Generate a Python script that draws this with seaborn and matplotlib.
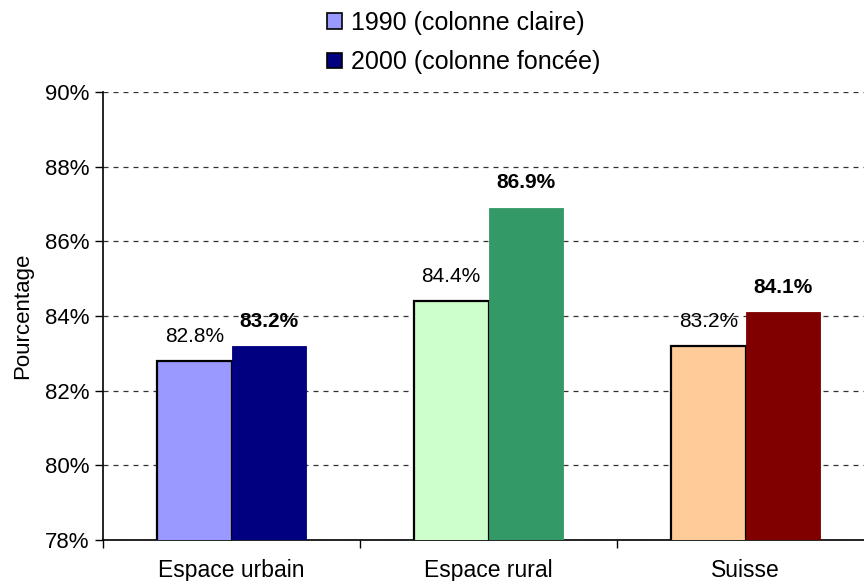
import matplotlib
matplotlib.use("Agg")
import matplotlib.pyplot as plt
import seaborn as sns
import pandas as pd
from matplotlib.patches import Patch
from matplotlib.ticker import FuncFormatter, FixedLocator

categories = ["Espace urbain", "Espace rural", "Suisse"]
years = ["1990", "2000"]
values_1990 = [82.8, 84.4, 83.2]
values_2000 = [83.2, 86.9, 84.1]
labels_1990 = ["82.8%", "84.4%", "83.2%"]
labels_2000 = ["83.2%", "86.9%", "84.1%"]
legend_labels = ["1990 (colonne claire)", "2000 (colonne foncée)"]
colors_1990 = ["#9999FF", "#CCFFCC", "#FFCC99"]
colors_2000 = ["#000080", "#339966", "#800000"]

df = pd.DataFrame({
    "cat": categories * 2,
    "year": [years[0]] * 3 + [years[1]] * 3,
    "val": values_1990 + values_2000,
})

sns.set_style("white")
plt.rcParams["font.family"] = ["Liberation Sans", "DejaVu Sans"]
plt.rcParams["text.color"] = "black"
plt.rcParams["axes.labelcolor"] = "black"
plt.rcParams["xtick.color"] = "black"
plt.rcParams["ytick.color"] = "black"

fig = plt.figure(figsize=(8.64, 5.81), dpi=100)
ax = fig.add_axes([103 / 864, 1 - 540 / 581, 771 / 864, 448 / 581])

sns.barplot(data=df, x="cat", y="val", hue="year", order=categories,
            hue_order=years, width=0.58, ax=ax, legend=False, errorbar=None,
            zorder=3)

c1990, c2000 = ax.containers[0], ax.containers[1]
for patch, col in zip(c1990, colors_1990):
    patch.set_facecolor(col)
    patch.set_edgecolor("black")
    patch.set_linewidth(1.6)
for patch, col in zip(c2000, colors_2000):
    patch.set_facecolor(col)
    patch.set_edgecolor(col)
    patch.set_linewidth(0.6)

ax.bar_label(c1990, labels=labels_1990, padding=11, fontsize=15,
             color="black")
ax.bar_label(c2000, labels=labels_2000, padding=11, fontsize=15,
             fontweight="bold", color="black")

ax.set_ylim(78, 90)
ax.set_xlim(-0.5, 2.5)
ax.set_yticks([78, 80, 82, 84, 86, 88, 90])
ax.yaxis.set_major_formatter(FuncFormatter(lambda v, p: f"{v:.0f}%"))
ax.yaxis.grid(True, linestyle=(0, (4, 4)), color="#333333", linewidth=0.9,
              zorder=0)
ax.set_axisbelow(True)

ax.xaxis.set_major_locator(FixedLocator([0, 1, 2]))
ax.set_xticklabels(categories)
ax.xaxis.set_minor_locator(FixedLocator([-0.5, 0.5, 1.5, 2.5]))
ax.tick_params(axis="x", which="major", length=0, labelsize=16.5, pad=14)
ax.tick_params(axis="x", which="minor", length=6, width=1, color="black",
               direction="out", bottom=True)
ax.tick_params(axis="y", length=6, width=1, color="black", direction="out",
               left=True, labelsize=16, pad=4)

for s in ["top", "right"]:
    ax.spines[s].set_visible(False)
for s in ["left", "bottom"]:
    ax.spines[s].set_color("black")
    ax.spines[s].set_linewidth(1.2)

ax.set_xlabel("")
ax.set_ylabel("Pourcentage", fontsize=16, labelpad=8)

handles = [Patch(facecolor=colors_1990[0], edgecolor="black", linewidth=1.2),
           Patch(facecolor=colors_2000[0], edgecolor="black", linewidth=1.2)]
fig.legend(handles, legend_labels, loc="center", bbox_to_anchor=(0.5365, 0.927),
           frameon=False, fontsize=18, handlelength=0.6, handleheight=0.6,
           handletextpad=0.36, labelspacing=0.63, borderpad=0)

fig.savefig("out.png", dpi=100)
